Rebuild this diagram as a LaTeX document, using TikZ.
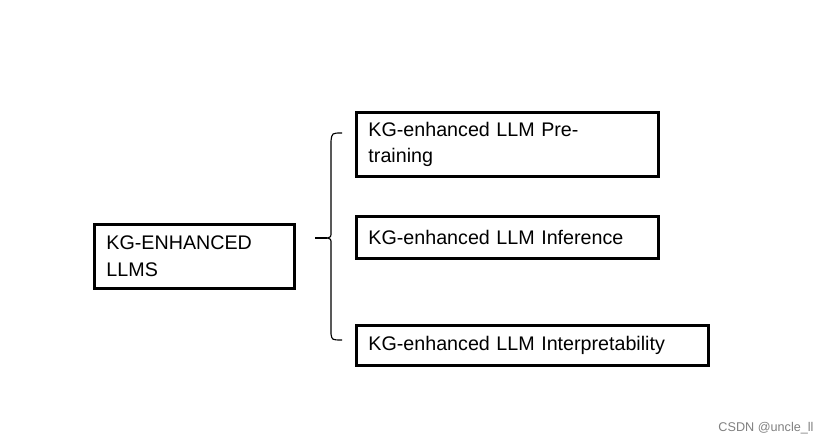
\documentclass[tikz,border=0pt]{standalone}
\usepackage{fontspec}
\setmainfont{Liberation Sans}
\usepackage{tikz}
\usetikzlibrary{positioning}
\usetikzlibrary{calc}

\tikzset{
	topicbox/.style={
		draw,
		line width=2.1pt,
		align=left,
		anchor=west,
		inner xsep=0.3cm,
		font=\fontsize{14}{19}\selectfont
	}
}

\begin{document}
\begin{tikzpicture}

\useasboundingbox (0,0) rectangle (20.725,11.125);

\node[
	topicbox,
	text width=4.4cm,
	minimum height=1.6cm
] (kgllm) at (2.325,4.7125) {KG-ENHANCED\\LLMS};

\node[
	topicbox,
	text width=6.95cm,
	minimum height=1.6cm
] (pretrain) at (8.875,7.5125) {KG-enhanced LLM Pre-\\training};

\node[
	topicbox,
	text width=6.95cm,
	minimum height=1.05cm
] (inference) at (8.875,5.1875) {KG-enhanced LLM Inference};

\node[
	topicbox,
	text width=8.2cm,
	minimum height=1.0cm
] (interpret) at (8.875,2.4875) {KG-enhanced LLM Interpretability};

% brace
\coordinate (btop) at (8.55,7.8);
\coordinate (bmid) at (8.175,5.175);
\coordinate (bbot) at (8.55,2.625);
\coordinate (bstub) at (7.875,5.175);

\draw[line width=0.8pt] (btop) .. controls (8.3,7.8) .. (8.275,7.6)
	-- (8.275,5.325) .. controls (8.275,5.2) .. (bmid)
	.. controls (8.275,5.15) .. (8.275,5.025)
	-- (8.275,2.775) .. controls (8.3,2.625) .. (bbot);
\draw[line width=0.8pt] (bstub) -- (bmid);

\node[
	text=gray,
	font=\fontsize{9}{11}\selectfont
] (mark) at (19.15,0.42) {CSDN @uncle\_ll};

\end{tikzpicture}
\end{document}
